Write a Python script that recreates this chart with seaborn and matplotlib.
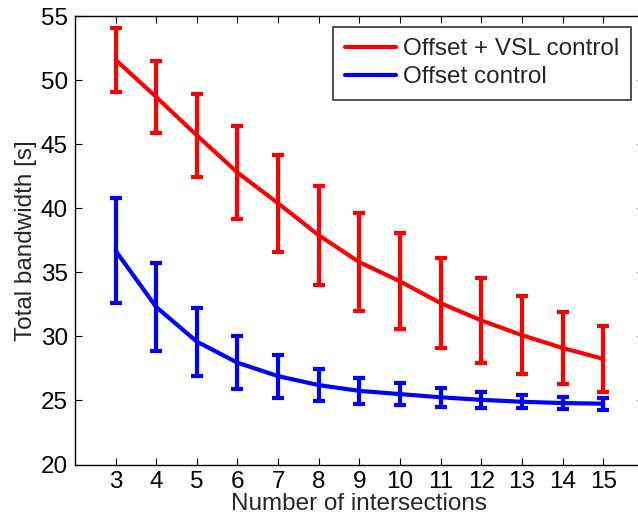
import numpy as np
import pandas as pd
import matplotlib
matplotlib.use("Agg")
import matplotlib.pyplot as plt
import seaborn as sns

# Werte
intersections = [3, 4, 5, 6, 7, 8, 9, 10, 11, 12, 13, 14, 15]
vsl_mean = [51.6, 48.7, 45.7, 42.8, 40.4, 37.9, 35.8, 34.3, 32.6, 31.25, 30.1, 29.1, 28.25]
vsl_err = [2.5, 2.8, 3.25, 3.65, 3.8, 3.85, 3.85, 3.75, 3.5, 3.3, 3.05, 2.8, 2.55]
off_mean = [36.7, 32.3, 29.6, 27.95, 26.9, 26.2, 25.75, 25.5, 25.25, 25.05, 24.9, 24.8, 24.75]
off_err = [4.1, 3.4, 2.65, 2.05, 1.67, 1.25, 1.0, 0.87, 0.72, 0.62, 0.52, 0.5, 0.48]
labels = ["Offset + VSL control", "Offset control"]
colors = ["#ff0000", "#0000ff"]

df = pd.DataFrame({
    "n": intersections * 2,
    "bw": vsl_mean + off_mean,
    "err": vsl_err + off_err,
    "serie": [labels[0]] * len(intersections) + [labels[1]] * len(intersections),
})

sns.set_theme(style="ticks")
plt.rcParams["font.family"] = ["Liberation Sans", "DejaVu Sans"]
fs = 17.5

fig = plt.figure(figsize=(6.38, 5.2), dpi=100)
ax = fig.add_axes([0.1174, 0.1067, 0.8917, 0.862])

sns.lineplot(data=df, x="n", y="bw", hue="serie", palette=colors,
             linewidth=3, ax=ax, legend=True)
for lab, col in zip(labels, colors):
    d = df[df["serie"] == lab]
    ax.errorbar(d["n"], d["bw"], yerr=d["err"], fmt="none", ecolor=col,
                elinewidth=3, capsize=4.5, capthick=3)

ax.set_xlim(2, 16)
ax.set_ylim(20, 55)
ax.set_xticks(intersections)
ax.set_yticks(range(20, 56, 5))
ax.tick_params(direction="in", length=5, width=0.8, top=True, right=True,
               labelsize=fs, colors="black", pad=5)
for s in ax.spines.values():
    s.set_linewidth(1)
    s.set_color("black")
ax.set_xlabel("Number of intersections", fontsize=fs, labelpad=0)
ax.set_ylabel("Total bandwidth [s]", fontsize=fs, labelpad=3)

leg = ax.legend(loc="upper right", bbox_to_anchor=(631 / 638, 1 - 26.7 / 520),
                bbox_transform=fig.transFigure, borderaxespad=0, fontsize=fs,
                frameon=True, fancybox=False, edgecolor="black",
                handlelength=2.1, handletextpad=0.3, labelspacing=0.25,
                borderpad=0.48)
leg.get_frame().set_linewidth(1.2)
for h in leg.get_lines():
    h.set_linewidth(3)

fig.savefig("out.png", dpi=100)
